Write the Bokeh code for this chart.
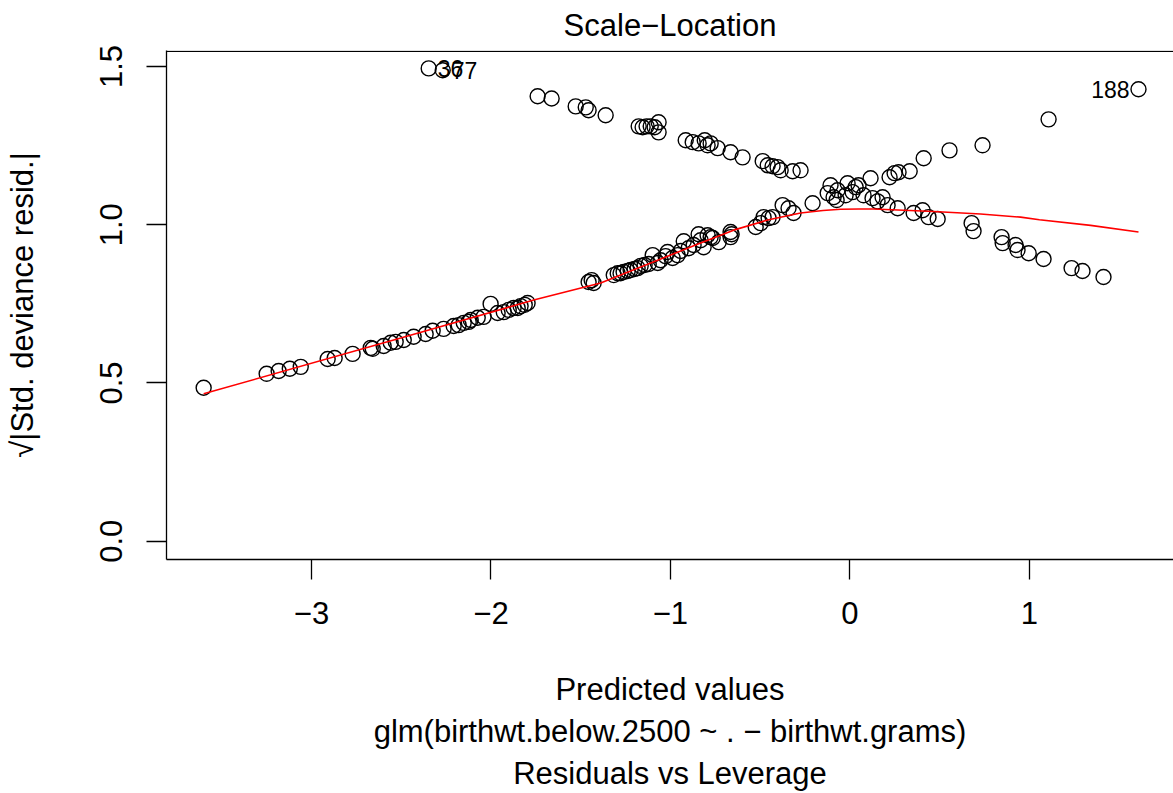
from bokeh.plotting import figure
from bokeh.models import Range1d, FixedTicker, Label, Span, ColumnDataSource
from bokeh.embed import file_html
from bokeh.resources import INLINE

# ---- data: predicted values (x) and sqrt(|std. deviance resid.|) (y) ----
low0_pred = [-3.601, -3.250, -3.183, -3.121, -3.060, -2.910, -2.871, -2.771, -2.670, -2.659,
             -2.598, -2.559, -2.531, -2.486, -2.431, -2.364, -2.325, -2.264, -2.208, -2.180,
             -2.152, -2.124, -2.113, -2.074, -2.041, -2.002, -1.963, -1.929, -1.901, -1.874,
             -1.851, -1.835, -1.812, -1.796, -1.456, -1.439, -1.428, -1.316, -1.294, -1.278,
             -1.261, -1.238, -1.222, -1.200, -1.183, -1.166, -1.144, -1.121, -1.099, -1.071,
             -1.055, -1.027, -1.016, -0.988, -0.960, -0.943, -0.926, -0.899, -0.871, -0.843,
             -0.832, -0.815, -0.793, -0.776, -0.765, -0.731, -0.665, -0.665, -0.659, -0.525,
             -0.497, -0.481, -0.453, -0.431, -0.375, -0.342, -0.314, -0.208, -0.124, -0.108,
             -0.091, -0.069, -0.013, 0.015, 0.032, 0.115, 0.221, 0.249, 0.271, 0.333,
             0.411, 0.555, 0.739, 1.107, 1.608]
low0_sres = [0.485, 0.529, 0.538, 0.545, 0.551, 0.576, 0.579, 0.592, 0.611, 0.608,
             0.617, 0.627, 0.630, 0.636, 0.646, 0.655, 0.665, 0.671, 0.680, 0.683,
             0.690, 0.693, 0.699, 0.706, 0.709, 0.750, 0.721, 0.724, 0.731, 0.737,
             0.737, 0.743, 0.747, 0.753, 0.819, 0.825, 0.816, 0.841, 0.847, 0.847,
             0.851, 0.854, 0.857, 0.860, 0.863, 0.870, 0.873, 0.876, 0.904, 0.879,
             0.888, 0.901, 0.914, 0.895, 0.904, 0.917, 0.948, 0.926, 0.936, 0.970,
             0.951, 0.929, 0.967, 0.961, 0.958, 0.945, 0.977, 0.961, 0.970, 0.993,
             1.005, 1.024, 1.021, 1.024, 1.062, 1.052, 1.037, 1.068, 1.100, 1.125,
             1.087, 1.109, 1.131, 1.103, 1.119, 1.147, 1.150, 1.163, 1.166, 1.169,
             1.210, 1.235, 1.251, 1.333, 1.428]

low1_pred = [-2.347, -2.269, -1.740, -1.662, -1.528, -1.472, -1.456, -1.361, -1.177, -1.155,
             -1.133, -1.110, -1.088, -1.066, -1.066, -0.915, -0.876, -0.843, -0.809, -0.793,
             -0.776, -0.737, -0.665, -0.598, -0.486, -0.458, -0.431, -0.403, -0.386, -0.319,
             -0.275, -0.074, -0.024, 0.048, 0.076, 0.126, 0.154, 0.182, 0.210, 0.266,
             0.355, 0.405, 0.438, 0.489, 0.678, 0.689, 0.845, 0.851, 0.923, 0.934,
             0.996, 1.079, 1.235, 1.296, 1.413]
low1_sres = [1.494, 1.488, 1.406, 1.399, 1.374, 1.371, 1.362, 1.346, 1.311, 1.308,
             1.311, 1.311, 1.308, 1.324, 1.292, 1.267, 1.261, 1.257, 1.267, 1.251,
             1.257, 1.242, 1.229, 1.213, 1.201, 1.188, 1.185, 1.182, 1.172, 1.169,
             1.172, 1.078, 1.093, 1.125, 1.093, 1.084, 1.074, 1.087, 1.062, 1.052,
             1.037, 1.046, 1.024, 1.018, 1.005, 0.980, 0.961, 0.942, 0.936, 0.920,
             0.910, 0.892, 0.863, 0.854, 0.835]

# lowess smoother (red line)
smooth_pred = [-3.601, -2.503, -1.762, -1.389, -1.054, -0.832, -0.648, -0.459, -0.275,
               -0.150, -0.052, 0.050, 0.132, 0.300, 0.466, 0.728, 0.951, 1.056, 1.341, 1.608]
smooth_sres = [0.466, 0.642, 0.762, 0.816, 0.892, 0.942, 0.983, 1.015, 1.037,
               1.045, 1.049, 1.050, 1.050, 1.046, 1.042, 1.034, 1.024, 1.016, 0.998, 0.977]

# labelled extreme points
id_labels_right = ["36", "77"]
id_pred_right = [-2.347, -2.269]
id_sres_right = [1.494, 1.488]
id_labels_left = ["188"]
id_pred_left = [1.608]
id_sres_left = [1.428]

x_ticks = [-3, -2, -1, 0, 1]
x_tick_labels = ["\u22123", "\u22122", "\u22121", "0", "1"]
y_ticks = [0.0, 0.5, 1.0, 1.5]
y_tick_labels = ["0.0", "0.5", "1.0", "1.5"]

FONT = "Liberation Sans"
FS = "31px"
Y_TOP = 1.5506

p = figure(width=1173, height=793, output_backend="svg", toolbar_location=None,
           x_range=Range1d(-3.808, 1.803), y_range=Range1d(-0.0577, Y_TOP),
           min_border_left=166, min_border_right=0, min_border_top=50, min_border_bottom=233,
           title="Scale\u2212Location")
p.grid.visible = False
p.outline_line_color = None
p.background_fill_color = "white"
p.border_fill_color = "white"

p.title.align = "center"
p.title.vertical_align = "top"
p.title.text_font = FONT
p.title.text_font_size = FS
p.title.text_font_style = "normal"
p.title.text_color = "black"
p.title.standoff = 12

for ax in (p.xaxis[0], p.yaxis[0]):
    ax.axis_line_width = 1.3
    ax.axis_line_color = "black"
    ax.major_tick_line_width = 1.3
    ax.major_tick_line_color = "black"
    ax.major_tick_out = 20
    ax.major_tick_in = 0
    ax.minor_tick_line_color = None
    ax.major_label_text_font = FONT
    ax.major_label_text_font_size = FS
    ax.major_label_text_color = "black"
    ax.axis_label_text_font = FONT
    ax.axis_label_text_font_size = FS
    ax.axis_label_text_font_style = "normal"
    ax.axis_label_text_color = "black"

p.xaxis.ticker = FixedTicker(ticks=x_ticks)
p.xaxis.major_label_overrides = {float(t): l for t, l in zip(x_ticks, x_tick_labels)}
p.xaxis.major_label_standoff = 22
p.xaxis.axis_label = ("Predicted values\n"
                      "glm(birthwt.below.2500 ~ . \u2212 birthwt.grams)\n"
                      "Residuals vs Leverage")
p.xaxis.axis_label_standoff = 45

p.yaxis.ticker = FixedTicker(ticks=y_ticks)
p.yaxis.major_label_overrides = {float(t): l for t, l in zip(y_ticks, y_tick_labels)}
p.yaxis.major_label_orientation = "vertical"
p.yaxis.major_label_standoff = 24
p.yaxis.axis_label = "\u221a|Std. deviance resid.|"
p.yaxis.axis_label_standoff = 58

# top side of the box
p.add_layout(Span(location=Y_TOP - 0.003, dimension="width", line_color="black", line_width=1.3))

src = ColumnDataSource(dict(x=low0_pred + low1_pred, y=low0_sres + low1_sres))
p.scatter("x", "y", source=src, marker="circle", size=15, fill_color=None,
          line_color="black", line_width=1.4)
p.line(smooth_pred, smooth_sres, line_color="red", line_width=1.6)

for lbl, xv, yv in zip(id_labels_right, id_pred_right, id_sres_right):
    p.add_layout(Label(x=xv, y=yv, text=lbl, x_offset=9, text_align="left",
                       text_baseline="middle", text_font=FONT, text_font_size="23px",
                       text_color="black"))
for lbl, xv, yv in zip(id_labels_left, id_pred_left, id_sres_left):
    p.add_layout(Label(x=xv, y=yv, text=lbl, x_offset=-9, text_align="right",
                       text_baseline="middle", text_font=FONT, text_font_size="23px",
                       text_color="black"))

open("out.html", "w").write(file_html(p, INLINE))
